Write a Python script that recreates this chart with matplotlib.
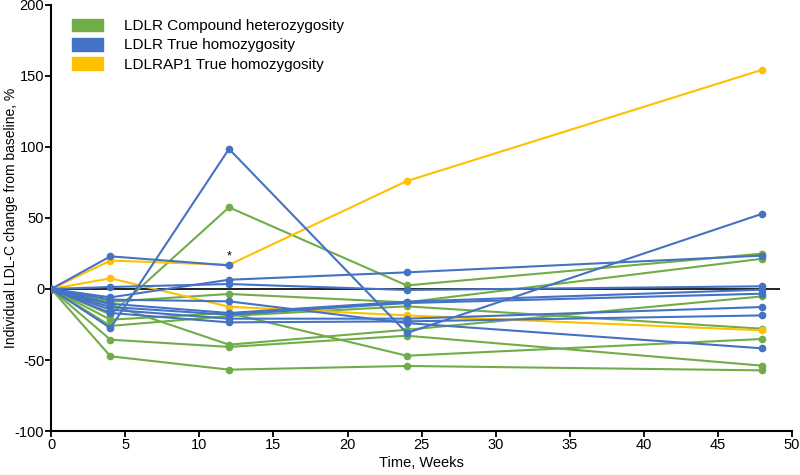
import matplotlib
matplotlib.use('Agg')
import matplotlib.pyplot as plt
from matplotlib.patches import Patch

plt.rcParams['font.family'] = ['Liberation Sans', 'DejaVu Sans']
plt.rcParams['axes.unicode_minus'] = False

# Visit weeks
weeks = [0, 4, 12, 24, 48]

# LDLR compound heterozygosity (green)
het = [
    [0, -18, 57.5, 2.5, 24.9],
    [0, -9, -3.5, -9.4, 21.3],
    [0, -11, -39.2, -28.7, -5.2],
    [0, -21.6, -16.9, -47, -35.2],
    [0, -35.7, -40.8, -32.9, -54],
    [0, -47.4, -56.8, -54.2, -57.3],
    [0, -26, -19, -12.2, -28],
]

# LDLR true homozygosity (blue); first patient stops at week 12 (*)
ldlr_homo = [
    [0, 23, 16.6],
    [0, -27.5, 98.6, -31, 53],
    [0, 1.4, 3.5, -0.7, 1.9],
    [0, -5.9, 6.5, 11.7, 23.5],
    [0, -7.5, -8.7, -24, -41.8],
    [0, -10.4, -16.9, -8.9, -0.5],
    [0, -12.7, -18.1, -9.9, -3.3],
    [0, -14.6, -20.9, -20.9, -12.7],
    [0, -16.9, -23.5, -22.8, -18.6],
]

# LDLRAP1 true homozygosity (yellow)
ldlrap1 = [
    [0, 20, 17, 76, 154.4],
    [0, 7.5, -12.5, -18.6, -29.1],
]

green = '#70AD47'
blue = '#4472C4'
yellow = '#FFC000'

fig = plt.figure(figsize=(8, 4.75), dpi=100)
ax = fig.add_axes([0.064, 0.0926, 0.926, 0.897])

ax.hlines(0, 0, 49.2, color='#222222', lw=1.4, zorder=1)

for vals in het:
    ax.plot(weeks[:len(vals)], vals, color=green, lw=1.5, marker='o', ms=4.5, zorder=2)
for vals in ldlr_homo:
    ax.plot(weeks[:len(vals)], vals, color=blue, lw=1.5, marker='o', ms=4.5, zorder=3)
for vals in ldlrap1:
    ax.plot(weeks[:len(vals)], vals, color=yellow, lw=1.5, marker='o', ms=4.5, zorder=2)

# asterisk over the patient who stopped at week 12
ax.text(12, ldlr_homo[0][2] + 2, '*', ha='center', va='bottom', fontsize=9)

ax.set_xlim(0, 50)
ax.set_ylim(-100, 200)
ax.set_xticks(range(0, 51, 5))
ax.set_yticks(range(-100, 201, 50))
ax.spines['top'].set_visible(False)
ax.spines['right'].set_visible(False)
ax.spines['left'].set_linewidth(1.5)
ax.spines['bottom'].set_linewidth(1.5)
ax.tick_params(direction='out', length=4, width=1.3, labelsize=10.5, pad=1)
ax.set_xlabel('Time, Weeks', fontsize=10.5, labelpad=3)
ax.set_ylabel('Individual LDL-C change from baseline, %', fontsize=10)
ax.yaxis.set_label_coords(-0.045, 0.5)

handles = [Patch(color=green), Patch(color=blue), Patch(color=yellow)]
labels = ['LDLR Compound heterozygosity', 'LDLR True homozygosity', 'LDLRAP1 True homozygosity']
ax.legend(handles, labels, loc='upper left', bbox_to_anchor=(0.01, 1.0), frameon=False,
          fontsize=11, handlelength=2.0, handleheight=0.9, labelspacing=0.3, handletextpad=1.4)

fig.savefig('out.png', dpi=100)
